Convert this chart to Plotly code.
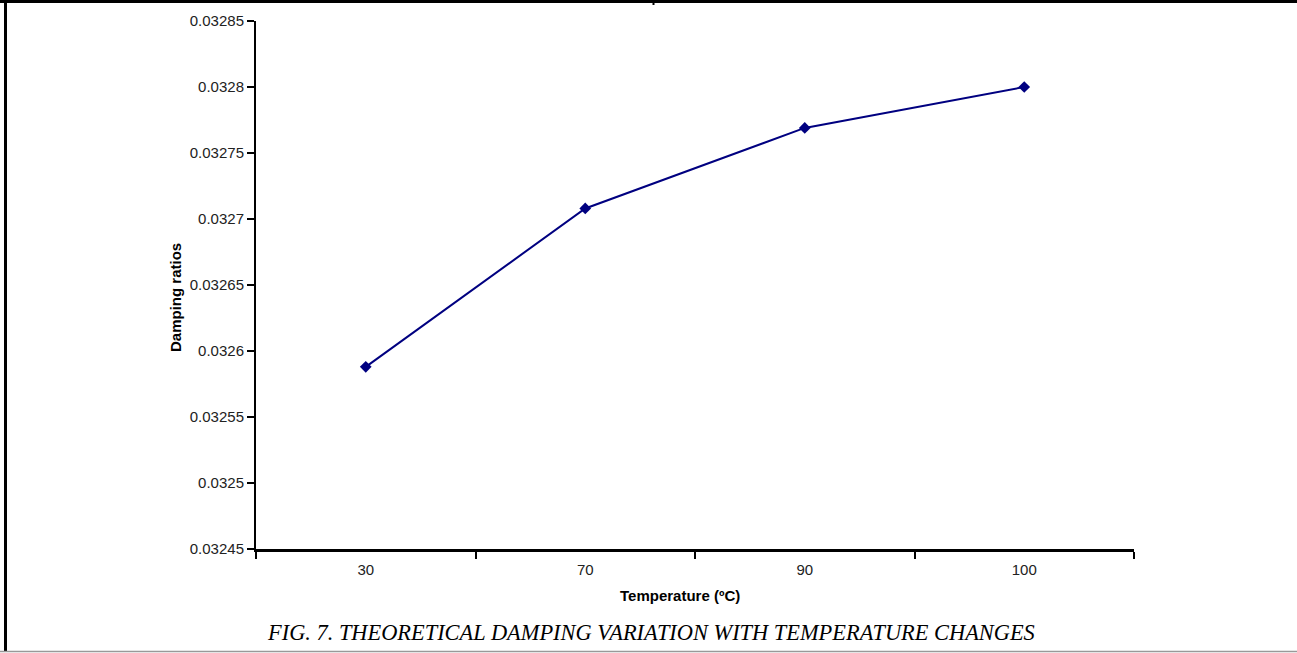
import plotly.graph_objects as go

categories = ["30", "70", "90", "100"]
damping = [0.032588, 0.032708, 0.032769, 0.032800]
y_ticks = [0.03245, 0.0325, 0.03255, 0.0326, 0.03265, 0.0327, 0.03275, 0.0328, 0.03285]
y_tick_text = ["0.03245", "0.0325", "0.03255", "0.0326", "0.03265", "0.0327", "0.03275", "0.0328", "0.03285"]

W, H = 1297, 653
L, R, T, B = 256, 1134, 21, 549


def px(x):
    return (x - L) / (R - L)


def py(y):
    return (B - y) / (B - T)


fig = go.Figure()
fig.add_trace(go.Scatter(
    x=categories, y=damping, mode="lines+markers",
    line=dict(color="#000080", width=2),
    marker=dict(symbol="diamond", size=9, color="#000080"),
    showlegend=False,
))

font = "Liberation Sans, Arial, sans-serif"
fig.update_layout(
    width=W, height=H,
    margin=dict(l=L, r=W - R, t=T, b=H - B, pad=0, autoexpand=False),
    paper_bgcolor="white", plot_bgcolor="white",
    xaxis=dict(
        type="category", range=[-0.5, 3.5], automargin=False,
        showline=True, linecolor="black", linewidth=3,
        ticks="outside", tickson="boundaries", ticklen=7, tickwidth=2, tickcolor="black",
        showgrid=False, zeroline=False,
        ticklabelstandoff=5,
        tickfont=dict(family=font, size=15, color="#222"),
    ),
    yaxis=dict(
        range=[0.03245, 0.03285], automargin=False,
        tickvals=y_ticks, ticktext=y_tick_text,
        showline=True, linecolor="black", linewidth=2,
        ticks="outside", ticklen=7, tickwidth=2, tickcolor="black",
        showgrid=False, zeroline=False,
        tickfont=dict(family=font, size=15, color="#222"),
    ),
    annotations=[
        dict(text="<b>Temperature (ºC)</b>", x=px(680), y=py(595),
             xref="paper", yref="paper", showarrow=False,
             xanchor="center", yanchor="middle",
             font=dict(family=font, size=15, color="black")),
        dict(text="<b>Damping ratios</b>", x=px(175), y=py(298),
             xref="paper", yref="paper", showarrow=False, textangle=-90,
             xanchor="center", yanchor="middle",
             font=dict(family=font, size=15, color="black")),
        dict(text="<i>FIG. 7. THEORETICAL DAMPING VARIATION WITH TEMPERATURE CHANGES</i>",
             x=px(651), y=py(632),
             xref="paper", yref="paper", showarrow=False,
             xanchor="center", yanchor="middle",
             font=dict(family="Liberation Serif, Times New Roman, serif", size=22.4, color="black")),
    ],
    shapes=[
        dict(type="line", xref="paper", yref="paper", x0=px(0), x1=px(W), y0=py(1.5), y1=py(1.5),
             line=dict(color="black", width=3)),
        dict(type="line", xref="paper", yref="paper", x0=px(5.5), x1=px(5.5), y0=py(651), y1=py(0),
             line=dict(color="black", width=3)),
        dict(type="line", xref="paper", yref="paper", x0=px(0), x1=px(W), y0=py(651.5), y1=py(651.5),
             line=dict(color="#999", width=1.5)),
        dict(type="line", xref="paper", yref="paper", x0=px(653.5), x1=px(653.5), y0=py(5), y1=py(0),
             line=dict(color="black", width=2)),
    ],
)

fig.write_html("out.html")
